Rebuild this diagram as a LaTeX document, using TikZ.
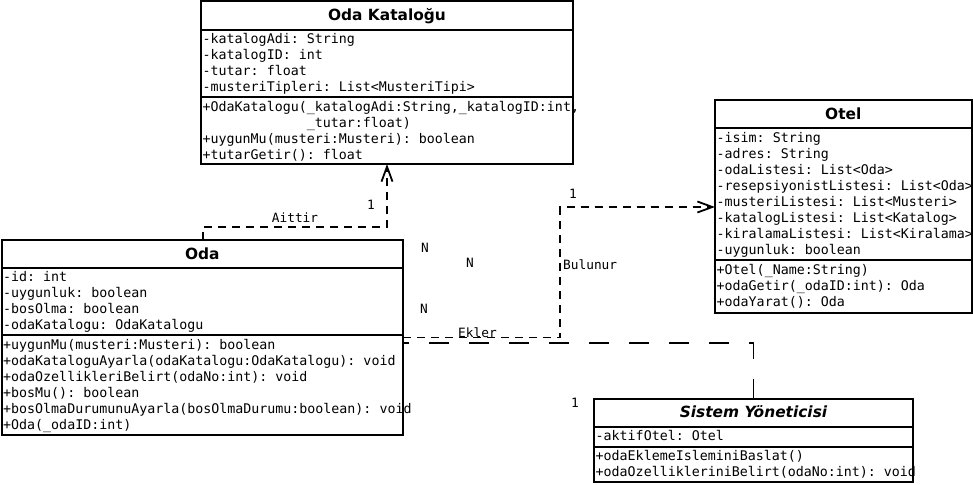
\documentclass[tikz,border=0pt]{standalone}
\usepackage{fontspec}
\setmainfont{DejaVu Sans}
\setsansfont{DejaVu Sans}
\setmonofont{DejaVu Sans Mono}
\usetikzlibrary{arrows.meta}

\newcommand{\memberfont}{\fontsize{13.3pt}{16pt}\selectfont\ttfamily}
\newcommand{\titlefont}{\fontsize{15.4pt}{18pt}\selectfont\sffamily\bfseries}
\newcommand{\labelfont}{\fontsize{12.8pt}{15pt}\selectfont\ttfamily}

\begin{document}
\begin{tikzpicture}[x=1pt,y=-1pt]

\useasboundingbox (0,0) rectangle (973,484);

\begin{scope}[every node/.style={draw,line width=2pt,rectangle,anchor=north west,inner sep=0pt,outer sep=0pt}]
	%Class boxes
	\node[minimum width=372pt,minimum height=163pt] (katalog) at (201,1) {};
	\node[minimum width=256.5pt,minimum height=213pt] (otel) at (715,100) {};
	\node[minimum width=401.5pt,minimum height=195pt] (oda) at (1.5,240) {};
	\node[minimum width=319pt,minimum height=83pt] (sistem) at (594,399) {};
\end{scope}

\begin{scope}[line width=2pt]
	%Compartments
	\draw ([yshift=-29pt]katalog.north west) -- ([yshift=-29pt]katalog.north east);
	\draw ([yshift=-96pt]katalog.north west) -- ([yshift=-96pt]katalog.north east);
	
	\draw ([yshift=-28pt]otel.north west) -- ([yshift=-28pt]otel.north east);
	\draw ([yshift=-160pt]otel.north west) -- ([yshift=-160pt]otel.north east);
	
	\draw ([yshift=-28pt]oda.north west) -- ([yshift=-28pt]oda.north east);
	\draw ([yshift=-95pt]oda.north west) -- ([yshift=-95pt]oda.north east);
	
	\draw ([yshift=-28pt]sistem.north west) -- ([yshift=-28pt]sistem.north east);
	\draw ([yshift=-48pt]sistem.north west) -- ([yshift=-48pt]sistem.north east);
\end{scope}

\begin{scope}[every node/.style={anchor=base,inner sep=0pt,font=\titlefont}]
	%Class names
	\node (katalog-name) at ([yshift=-19.5pt]katalog.north) {Oda Kataloğu};
	\node (otel-name) at ([yshift=-19.5pt]otel.north) {Otel};
	\node (oda-name) at ([yshift=-19.5pt]oda.north) {Oda};
	\node[font=\titlefont\itshape] (sistem-name) at ([yshift=-18.5pt]sistem.north) {Sistem Yöneticisi};
\end{scope}

\begin{scope}[every node/.style={anchor=north west,inner sep=0pt,align=left,font=\memberfont}]
	%Oda Katalogu
	\node (katalog-attr) at (202.5,32.3) {\strut-katalogAdi: String\\-katalogID: int\\-tutar: float\\-musteriTipleri: List<MusteriTipi>};
	\node (katalog-op) at (202.5,100.3) {\strut+OdaKatalogu(\_katalogAdi:String,\_katalogID:int,\\\phantom{+OdaKatalogu(}\_tutar:float)\\+uygunMu(musteri:Musteri): boolean\\+tutarGetir(): float};
	
	%Otel
	\node (otel-attr) at (716.5,131.3) {\strut-isim: String\\-adres: String\\-odaListesi: List<Oda>\\-resepsiyonistListesi: List<Oda>\\-musteriListesi: List<Musteri>\\-katalogListesi: List<Katalog>\\-kiralamaListesi: List<Kiralama>\\-uygunluk: boolean};
	\node (otel-op) at (716.5,263.3) {\strut+Otel(\_Name:String)\\+odaGetir(\_odaID:int): Oda\\+odaYarat(): Oda};
	
	%Oda
	\node (oda-attr) at (3,270.3) {\strut-id: int\\-uygunluk: boolean\\-bosOlma: boolean\\-odaKatalogu: OdaKatalogu};
	\node (oda-op) at (3,338.3) {\strut+uygunMu(musteri:Musteri): boolean\\+odaKataloguAyarla(odaKatalogu:OdaKatalogu): void\\+odaOzellikleriBelirt(odaNo:int): void\\+bosMu(): boolean\\+bosOlmaDurumunuAyarla(bosOlmaDurumu:boolean): void\\+Oda(\_odaID:int)};
	
	%Sistem Yoneticisi
	\node (sistem-attr) at (595.5,429.3) {\strut-aktifOtel: Otel};
	\node (sistem-op) at (595.5,449.3) {\strut+odaEklemeIsleminiBaslat()\\+odaOzellikleriniBelirt(odaNo:int): void};
\end{scope}

\coordinate (aittir-bend) at (387,227);
\coordinate (bulunur-bend) at (560,207);

\begin{scope}[line width=1.8pt,dash pattern=on 8pt off 6pt]
	%Associations
	\draw[-{Straight Barb[length=15pt,width=11pt]}] ([xshift=201.5pt]oda.north west) |- (aittir-bend) -- (aittir-bend |- katalog.south);
	\draw[-{Straight Barb[length=15pt,width=11pt]}] (oda.east) -| (bulunur-bend) -- (bulunur-bend -| otel.west);
	\draw[dash pattern=on 20pt off 20pt,dash phase=14pt] ([yshift=-5.5pt]oda.east) -| (sistem.north);
\end{scope}

\begin{scope}[every node/.style={anchor=base,inner sep=0pt,font=\labelfont}]
	%Labels
	\node (aittir) at (295,222.7) {Aittir};
	\node (aittir-one) at (371,209) {1};
	\node (bulunur-one) at (573,198) {1};
	\node[anchor=base west] (bulunur) at (563,269) {Bulunur};
	\node (oda-n1) at (425,252) {N};
	\node (oda-n2) at (470,267) {N};
	\node (oda-n3) at (424,313) {N};
	\node (ekler) at (477.5,337) {Ekler};
	\node (sistem-one) at (575,407) {1};
\end{scope}

\end{tikzpicture}
\end{document}
